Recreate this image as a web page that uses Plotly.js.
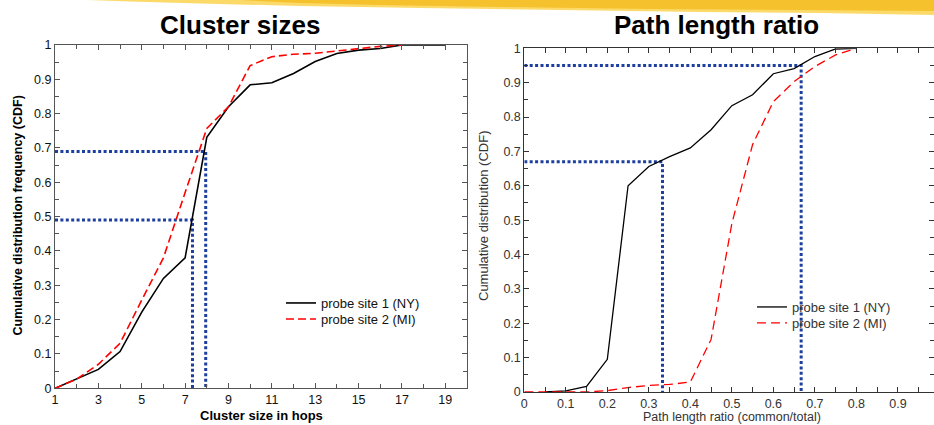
<!DOCTYPE html>
<html>
<head>
<meta charset="utf-8">
<script src="https://cdn.plot.ly/plotly-3.0.1.min.js"></script>
<style>html,body{margin:0;padding:0;background:#fff;overflow:hidden}#chart{width:934px;height:425px}</style>
</head>
<body>
<div id="chart"></div>
<script>
// ---- Data: Cluster sizes (left) ----
const clusterHops = [1, 2, 3, 4, 5, 6, 7, 8, 9, 10, 11, 12, 13, 14, 15, 16, 17, 18, 19];
const clusterNY   = [0, 0.027, 0.055, 0.107, 0.222, 0.32, 0.38, 0.731, 0.82, 0.884, 0.89, 0.917, 0.952, 0.975, 0.985, 0.99, 1.0, 1.0, 1.0];
const clusterHopsMI = [1, 2, 3, 4, 5, 6, 7, 8, 9, 10, 11, 12, 13, 14, 15, 16, 17];
const clusterMI   = [0, 0.027, 0.07, 0.131, 0.257, 0.38, 0.57, 0.757, 0.82, 0.94, 0.966, 0.973, 0.976, 0.983, 0.99, 0.996, 1.0];
const clusterGuideAX = [1, 7.95, 7.95];
const clusterGuideAY = [0.69, 0.69, 0];
const clusterGuideBX = [1, 7.34, 7.34];
const clusterGuideBY = [0.49, 0.49, 0];

// ---- Data: Path length ratio (right) ----
const ratioNYx = [0.05, 0.1, 0.15, 0.2, 0.25, 0.3, 0.35, 0.4, 0.45, 0.5, 0.55, 0.6, 0.65, 0.7, 0.75, 0.8];
const ratioNY  = [0, 0.003, 0.016, 0.095, 0.60, 0.656, 0.685, 0.71, 0.763, 0.833, 0.865, 0.926, 0.941, 0.976, 0.998, 1.0];
const ratioMIx = [0, 0.05, 0.1, 0.15, 0.2, 0.25, 0.3, 0.35, 0.4, 0.45, 0.5, 0.55, 0.6, 0.65, 0.7, 0.75, 0.8];
const ratioMI  = [0, 0, 0, 0, 0.004, 0.013, 0.019, 0.022, 0.029, 0.153, 0.49, 0.72, 0.845, 0.903, 0.947, 0.981, 1.0];
const ratioGuideAX = [0, 0.333, 0.333];
const ratioGuideAY = [0.67, 0.67, 0];
const ratioGuideBX = [0, 0.667, 0.667];
const ratioGuideBY = [0.95, 0.95, 0];

const seriesNames = ['probe site 1 (NY)', 'probe site 2 (MI)'];
const titles = ['Cluster sizes', 'Path length ratio'];

// ---- Layout helpers (pixel -> paper) ----
const W = 934, H = 425;
const px = v => v / W;
const py = v => (H - v) / H;

const FONT = 'Arial, "Liberation Sans", Helvetica, sans-serif';
const guideColor = '#1d3f9e';
const guideLine = {color: guideColor, width: 3, dash: '3px,2.4px'};

const traces = [
  {x: clusterGuideAX, y: clusterGuideAY, xaxis: 'x', yaxis: 'y', mode: 'lines', line: guideLine, showlegend: false, hoverinfo: 'skip'},
  {x: clusterGuideBX, y: clusterGuideBY, xaxis: 'x', yaxis: 'y', mode: 'lines', line: guideLine, showlegend: false, hoverinfo: 'skip'},
  {x: clusterHops, y: clusterNY, xaxis: 'x', yaxis: 'y', mode: 'lines', name: seriesNames[0], line: {color: '#000', width: 1.6}, legend: 'legend'},
  {x: clusterHopsMI, y: clusterMI, xaxis: 'x', yaxis: 'y', mode: 'lines', name: seriesNames[1], line: {color: '#ff0000', width: 1.6, dash: '8px,4px'}, legend: 'legend2'},

  {x: ratioGuideAX, y: ratioGuideAY, xaxis: 'x2', yaxis: 'y2', mode: 'lines', line: guideLine, showlegend: false, hoverinfo: 'skip'},
  {x: ratioGuideBX, y: ratioGuideBY, xaxis: 'x2', yaxis: 'y2', mode: 'lines', line: guideLine, showlegend: false, hoverinfo: 'skip'},
  {x: ratioNYx, y: ratioNY, xaxis: 'x2', yaxis: 'y2', mode: 'lines', name: seriesNames[0], line: {color: '#000', width: 1.3}, legend: 'legend3'},
  {x: ratioMIx, y: ratioMI, xaxis: 'x2', yaxis: 'y2', mode: 'lines', name: seriesNames[1], line: {color: '#ff0000', width: 1.3, dash: '9px,5px'}, legend: 'legend4'}
];

function axisBase(extra) {
  return Object.assign({
    showgrid: false, zeroline: false, showline: true, linecolor: '#555', linewidth: 1,
    mirror: 'ticks', ticks: 'inside', ticklen: 5, tickwidth: 1, tickcolor: '#555',
    tickfont: {family: FONT, size: 12.5, color: '#111'},
    fixedrange: true
  }, extra);
}

const legendFont = {family: FONT, size: 13, color: '#111'};
function legendAt(x, y, color) {
  return {x: px(x), y: py(y), xanchor: 'left', yanchor: 'middle', bgcolor: 'rgba(0,0,0,0)',
          borderwidth: 0, font: Object.assign({}, legendFont, {color: color}), itemclick: false, itemdoubleclick: false};
}

// brush stroke at top
function pathFrom(points) {
  return 'M ' + points.map(p => px(p[0]).toFixed(4) + ',' + py(p[1]).toFixed(4)).join(' L ') + ' Z';
}
const brushOuter = [[88,0],[934,0],[934,15],[820,13],[700,12],[560,10],[420,8],[300,6],[200,3.5],[130,1.5]];
const brushInner = [[240,0],[934,0],[934,11],[800,10],[650,9],[500,7],[380,5],[300,3]];

const layout = {
  width: W, height: H,
  margin: {l: 0, r: 0, t: 0, b: 0, pad: 0, autoexpand: false},
  paper_bgcolor: '#fff', plot_bgcolor: 'rgba(0,0,0,0)',
  font: {family: FONT, color: '#111'},
  xaxis: axisBase({domain: [px(55), px(467)], range: [1, 20], tick0: 1, dtick: 2, anchor: 'y',
    minor: {dtick: 1, ticks: 'inside', ticklen: 4, tickcolor: '#555'}}),
  yaxis: axisBase({domain: [py(388.3), py(45)], range: [0, 1], dtick: 0.1, anchor: 'x',
    minor: {dtick: 0.05, ticks: 'inside', ticklen: 4, tickcolor: '#555'}}),
  xaxis2: axisBase({domain: [px(524.3), 1], range: [0, 0.987], tick0: 0, dtick: 0.1, anchor: 'y2',
    linecolor: '#333', tickcolor: '#333',
    tickfont: {family: FONT, size: 12.5, color: '#333'},
    minor: {dtick: 0.05, ticks: 'inside', ticklen: 5, tickcolor: '#333'}}),
  yaxis2: axisBase({domain: [py(392), py(48.3)], range: [0, 1], dtick: 0.1, anchor: 'x2',
    linecolor: '#333', tickcolor: '#333',
    tickfont: {family: FONT, size: 12.5, color: '#333'},
    minor: {dtick: 0.05, ticks: 'inside', ticklen: 4, tickcolor: '#333'}}),
  legend: legendAt(281, 303, '#111'),
  legend2: legendAt(281, 319, '#111'),
  legend3: legendAt(752, 307, '#333'),
  legend4: legendAt(752, 323, '#333'),
  shapes: [
    {type: 'path', xref: 'paper', yref: 'paper', path: pathFrom(brushOuter), fillcolor: 'rgba(250,212,80,0.85)', line: {width: 0}, layer: 'below'},
    {type: 'path', xref: 'paper', yref: 'paper', path: pathFrom(brushInner), fillcolor: 'rgba(244,186,30,0.8)', line: {width: 0}, layer: 'below'}
  ],
  annotations: [
    {text: titles[0], x: px(240), y: py(25), xref: 'paper', yref: 'paper', showarrow: false,
     xanchor: 'center', yanchor: 'middle', font: {family: FONT, size: 26, weight: 700, color: '#000'}},
    {text: titles[1], x: px(716), y: py(25), xref: 'paper', yref: 'paper', showarrow: false,
     xanchor: 'center', yanchor: 'middle', font: {family: FONT, size: 26, weight: 700, color: '#000'}},
    {text: 'Cumulative distribution frequency (CDF)', x: px(17), y: py(215.5), xref: 'paper', yref: 'paper',
     showarrow: false, textangle: -90, xanchor: 'center', yanchor: 'middle',
     font: {family: FONT, size: 12.5, weight: 700, color: '#000'}},
    {text: 'Cluster size in hops', x: px(261), y: py(415.5), xref: 'paper', yref: 'paper',
     showarrow: false, xanchor: 'center', yanchor: 'middle',
     font: {family: FONT, size: 13, weight: 700, color: '#000'}},
    {text: 'Cumulative distribution (CDF)', x: px(483), y: py(216), xref: 'paper', yref: 'paper',
     showarrow: false, textangle: -90, xanchor: 'center', yanchor: 'middle',
     font: {family: FONT, size: 13, color: '#333'}},
    {text: 'Path length ratio (common/total)', x: px(732), y: py(416.5), xref: 'paper', yref: 'paper',
     showarrow: false, xanchor: 'center', yanchor: 'middle',
     font: {family: FONT, size: 12.5, color: '#333'}}
  ]
};

Plotly.newPlot('chart', traces, layout, {displayModeBar: false, staticPlot: true});
</script>
</body>
</html>
